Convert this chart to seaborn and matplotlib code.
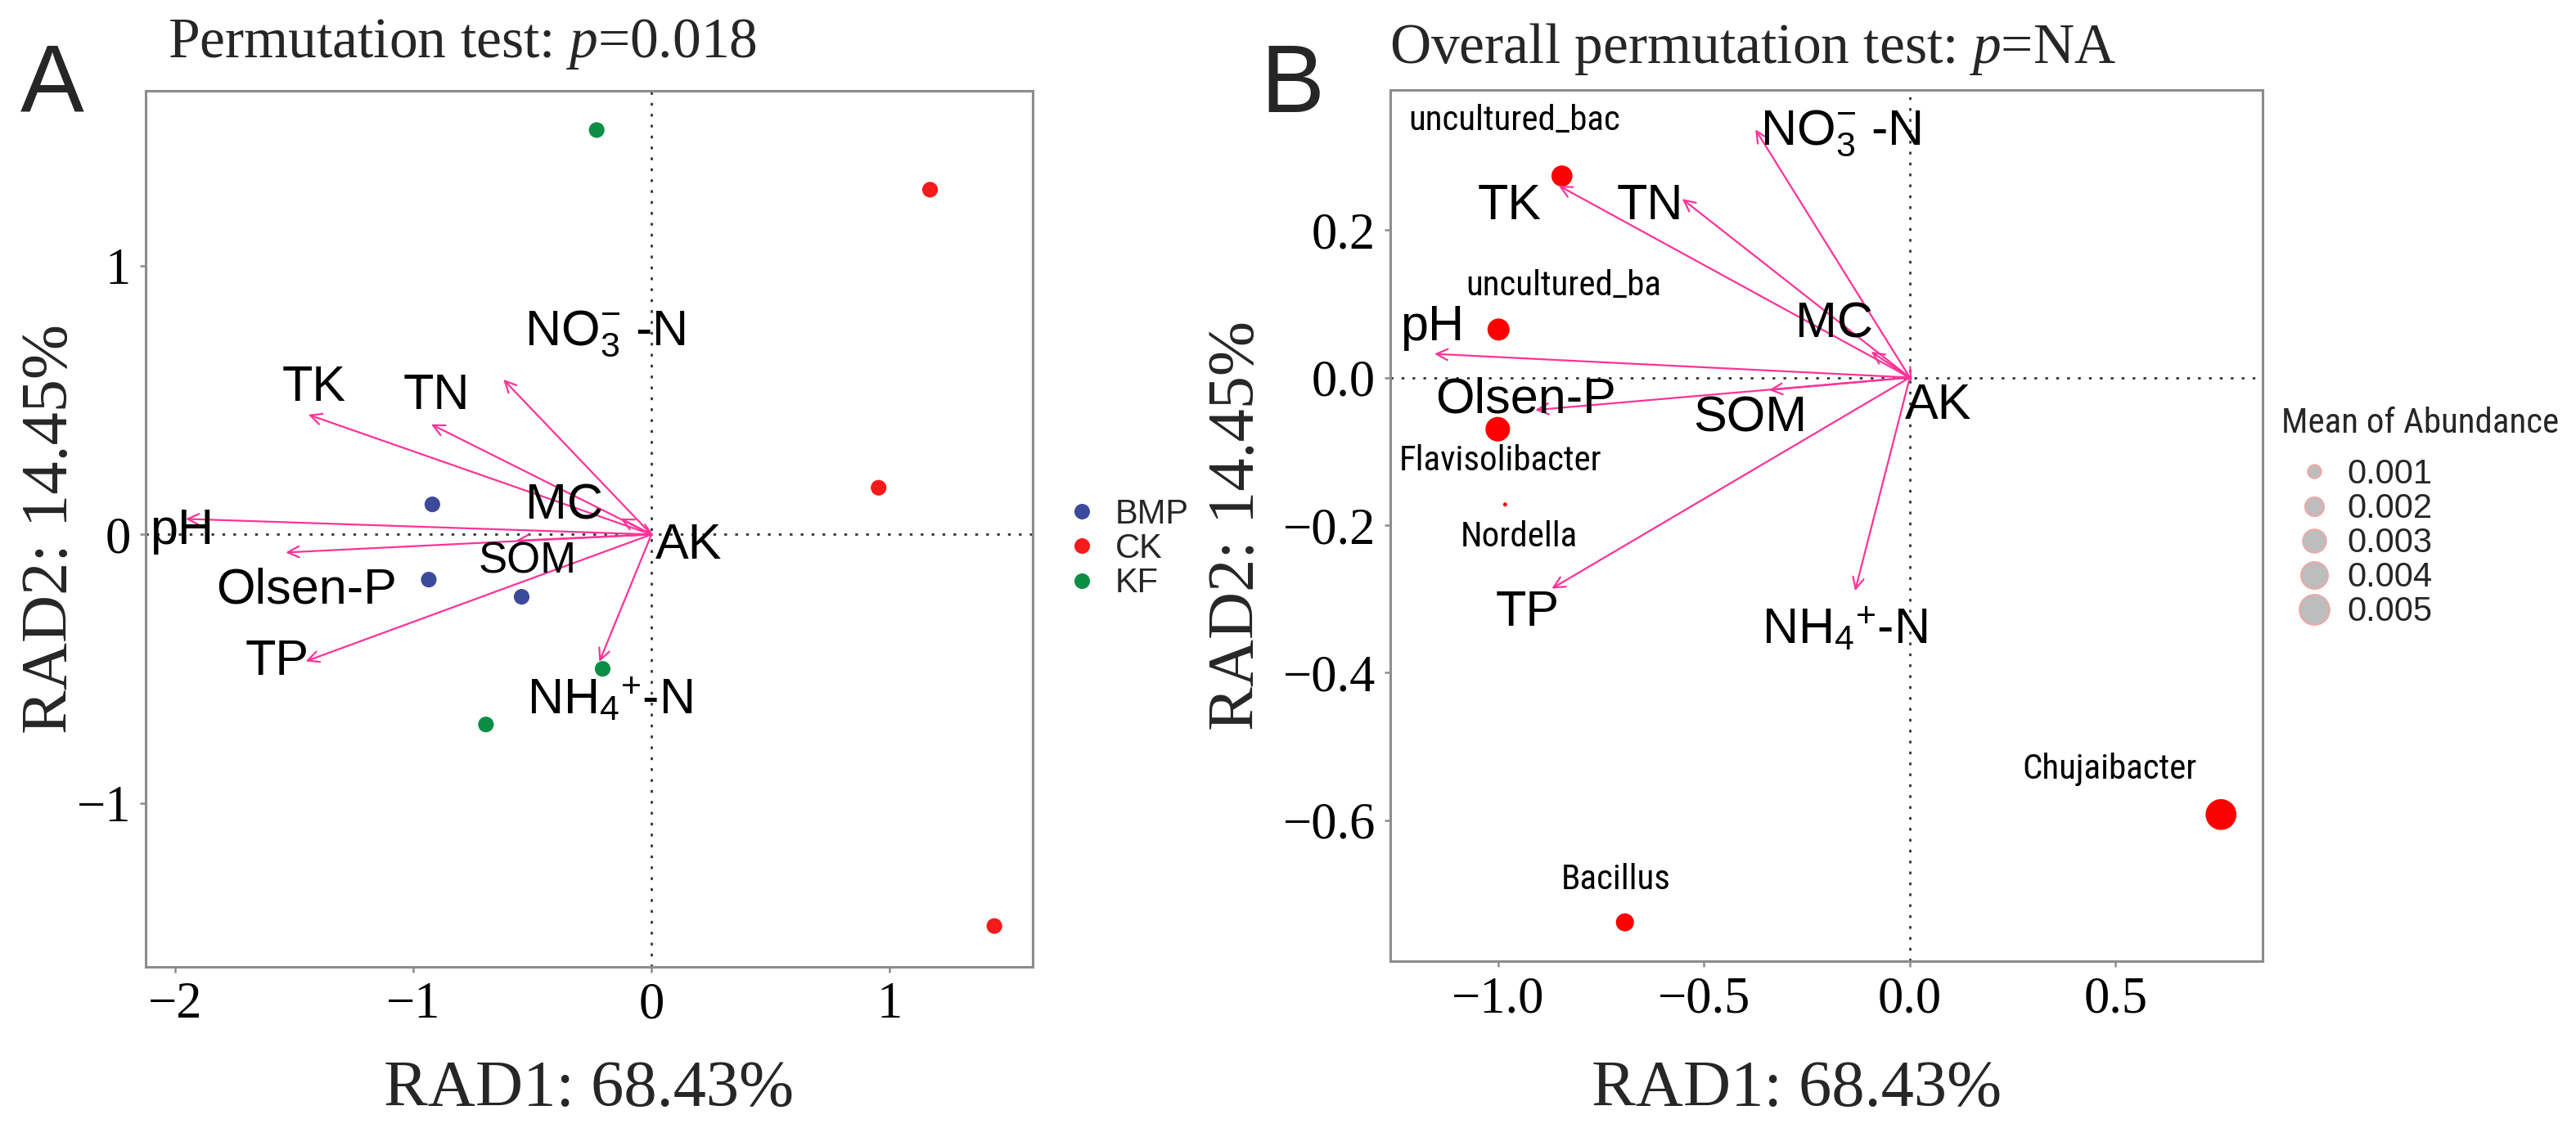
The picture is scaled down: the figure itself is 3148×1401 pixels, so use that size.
import numpy as np
import pandas as pd
import matplotlib
matplotlib.use("Agg")
import matplotlib.pyplot as plt
from matplotlib.lines import Line2D
from matplotlib import font_manager
from matplotlib.font_manager import FontProperties
import seaborn as sns

# ---------------- Panel A data (samples) ----------------
sample_group = ["BMP", "BMP", "BMP", "CK", "CK", "CK", "KF", "KF", "KF"]
sample_rad1 = [-0.920, -0.935, -0.545, 1.170, 0.954, 1.440, -0.230, -0.205, -0.695]
sample_rad2 = [0.112, -0.168, -0.232, 1.283, 0.174, -1.457, 1.505, -0.500, -0.707]
group_order = ["BMP", "CK", "KF"]
group_colors = {"BMP": "#3C4A9C", "CK": "#F51B1B", "KF": "#0A8D45"}

# environmental factors
env_labels = ["pH", "Olsen-P", "TK", "TN", r"NO$_3^{-}$ -N", "MC", "SOM", "TP",
              r"NH$_4$$^{+}$-N", "AK"]
env_a_rad1 = [-1.956, -1.536, -1.441, -0.925, -0.622, -0.130, -0.570, -1.452, -0.219, 0.010]
env_a_rad2 = [0.058, -0.067, 0.446, 0.410, 0.577, 0.060, -0.023, -0.472, -0.474, -0.005]
env_a_lab_x = [-1.973, -1.447, -1.418, -0.903, -0.193, -0.365, -0.522, -1.573, -0.175, 0.158]
env_a_lab_y = [0.012, -0.208, 0.544, 0.514, 0.746, 0.106, -0.102, -0.474, -0.621, -0.043]

# ---------------- Panel B data (genera) ----------------
genus_names = ["uncultured_bac", "uncultured_ba", "Flavisolibacter", "Nordella",
               "Bacillus", "Chujaibacter"]
genus_rad1 = [-0.845, -0.999, -1.001, -0.983, -0.692, 0.756]
genus_rad2 = [0.273, 0.065, -0.070, -0.172, -0.738, -0.592]
genus_abund = [0.00242, 0.00267, 0.00330, 0.0001, 0.00178, 0.0052]
genus_lab_x = [-0.960, -0.842, -0.994, -0.949, -0.713, 0.485]
genus_lab_y = [0.348, 0.124, -0.113, -0.216, -0.680, -0.531]

env_b_rad1 = [-1.155, -0.910, -0.853, -0.553, -0.375, -0.094, -0.342, -0.870, -0.133, 0.005]
env_b_rad2 = [0.032, -0.044, 0.260, 0.242, 0.336, 0.035, -0.017, -0.286, -0.289, -0.005]
env_b_lab_x = [-1.160, -0.933, -0.972, -0.632, -0.168, -0.183, -0.388, -0.929, -0.158, 0.069]
env_b_lab_y = [0.068, -0.030, 0.232, 0.232, 0.331, 0.072, -0.056, -0.319, -0.343, -0.039]

abund_breaks = [0.001, 0.002, 0.003, 0.004, 0.005]

a_xticks = [-2, -1, 0, 1]
a_yticks = [-1, 0, 1]
b_xticks = [-1.0, -0.5, 0.0, 0.5]
b_yticks = [-0.6, -0.4, -0.2, 0.0, 0.2]

# ---------------- style ----------------
sns.set_theme(style="white")
plt.rcParams["font.family"] = ["Liberation Serif", "DejaVu Serif"]
plt.rcParams["mathtext.fontset"] = "custom"
plt.rcParams["mathtext.rm"] = "Liberation Sans"
plt.rcParams["mathtext.it"] = "Liberation Serif:italic"
plt.rcParams["axes.unicode_minus"] = True

SANS = ["Liberation Sans", "DejaVu Sans"]


def find_condensed():
    prefs = ["Liberation Sans Narrow", "Arial Narrow", "Roboto Condensed",
             "Open Sans Condensed", "Noto Sans", "Open Sans", "Roboto", "DejaVu Sans"]
    cands = []
    for f in font_manager.fontManager.ttflist:
        narrow = ("Narrow" in f.name or "Condensed" in f.name or
                  f.stretch in ("condensed", "semi-condensed", "extra-condensed",
                                "ultra-condensed") or
                  (isinstance(f.stretch, (int, float)) and f.stretch < 500))
        if not narrow:
            continue
        if f.style != "normal":
            continue
        if f.weight not in (400, "normal", "regular", "book"):
            continue
        rank = len(prefs)
        for i, p in enumerate(prefs):
            if f.name.startswith(p):
                rank = i
                break
        cands.append((rank, f.fname))
    if not cands:
        return None
    cands.sort()
    return cands[0][1]


cond_path = find_condensed()
if cond_path:
    narrow_fp = FontProperties(fname=cond_path, size=31)
    narrow_title_fp = FontProperties(fname=cond_path, size=31)
else:
    narrow_fp = FontProperties(family=SANS, size=28)
    narrow_title_fp = FontProperties(family=SANS, size=26)

ARROW_COL = "#FF3399"
SPINE_COL = "#8C8C8C"

fig = plt.figure(figsize=(31.48, 14.01), dpi=100)
W, H = 3148.0, 1401.0
axA = fig.add_axes([178 / W, 1 - 1182 / H, 1084 / W, 1071 / H])
axB = fig.add_axes([1699 / W, 1 - 1175 / H, 1066 / W, 1065 / H])


def style_axes(ax):
    for sp in ax.spines.values():
        sp.set_color(SPINE_COL)
        sp.set_linewidth(2.2)
    ax.tick_params(axis="both", which="both", direction="out", length=5, width=1.8,
                   color=SPINE_COL, labelsize=45, pad=8, labelcolor="black",
                   bottom=True, left=True, top=False, right=False)
    ax.axhline(0, color="#333333", lw=2.0, ls=(0, (1.2, 3.6)), zorder=1)
    ax.axvline(0, color="#333333", lw=2.0, ls=(0, (1.2, 3.6)), zorder=1)
    ax.grid(False)


def draw_arrows(ax, xs, ys):
    for x, y in zip(xs, ys):
        ax.annotate("", xy=(x, y), xytext=(0, 0), xycoords="data", textcoords="data",
                    arrowprops=dict(arrowstyle="->,head_length=0.45,head_width=0.22",
                                    color=ARROW_COL, lw=1.6, shrinkA=0, shrinkB=0,
                                    mutation_scale=22),
                    zorder=4)


# ---------------- Panel A ----------------
dfA = pd.DataFrame({"RAD1": sample_rad1, "RAD2": sample_rad2, "Group": sample_group})
style_axes(axA)
sns.scatterplot(data=dfA, x="RAD1", y="RAD2", hue="Group", hue_order=group_order,
                palette=group_colors, s=190, linewidth=0, legend=False, ax=axA, zorder=3)
draw_arrows(axA, env_a_rad1, env_a_rad2)
for lab, x, y in zip(env_labels, env_a_lab_x, env_a_lab_y):
    fs = 38 if lab == "SOM" else 44
    axA.text(x, y, lab, ha="center", va="center", fontsize=fs, family=SANS,
             color="black", zorder=5)
axA.set_xlim(-2.124, 1.601)
axA.set_ylim(-1.609, 1.651)
axA.set_xticks(a_xticks)
axA.set_yticks(a_yticks)
axA.set_xticklabels([f"{v:d}".replace("-", "\u2212") for v in a_xticks])
axA.set_yticklabels([f"{v:d}".replace("-", "\u2212") for v in a_yticks])
axA.set_xlabel("RAD1: 68.43%", fontsize=58)
axA.xaxis.set_label_coords(0.5, -0.1587)
axA.xaxis.label.set_va("baseline")
axA.set_ylabel("RAD2: 14.45%", fontsize=58)
axA.yaxis.set_label_coords(-0.107, 0.5)
axA.yaxis.label.set_va("center")

handlesA = [Line2D([], [], marker="o", ls="", markersize=13.7, markeredgewidth=0,
                   color=group_colors[g]) for g in group_order]
legA = axA.legend(handlesA, group_order, loc="center left",
                  bbox_to_anchor=(1301 / W, 1 - 671 / H), bbox_transform=fig.transFigure,
                  frameon=False, handlelength=1.0, handletextpad=0.48, borderpad=0,
                  borderaxespad=0, labelspacing=0.05,
                  prop={"family": SANS, "size": 30})

# ---------------- Panel B ----------------
dfB = pd.DataFrame({"RAD1": genus_rad1, "RAD2": genus_rad2, "Abundance": genus_abund,
                    "Genus": genus_names})
style_axes(axB)
size_lo, size_hi = 0.0001, 0.0052
s_min, s_max = 13.0, 737.0
sns.scatterplot(data=dfB, x="RAD1", y="RAD2", size="Abundance", sizes=(s_min, s_max),
                size_norm=(size_lo, size_hi), color="#FF0000", linewidth=0,
                legend=False, ax=axB, zorder=3)
draw_arrows(axB, env_b_rad1, env_b_rad2)
for lab, x, y in zip(env_labels, env_b_lab_x, env_b_lab_y):
    axB.text(x, y, lab, ha="center", va="center", fontsize=44, family=SANS,
             color="black", zorder=5)
for lab, x, y in zip(genus_names, genus_lab_x, genus_lab_y):
    axB.text(x, y, lab, ha="center", va="center", fontproperties=narrow_fp,
             color="black", zorder=5)
axB.set_xlim(-1.262, 0.857)
axB.set_ylim(-0.7906, 0.3895)
axB.set_xticks(b_xticks)
axB.set_yticks(b_yticks)
axB.set_xticklabels([f"{v:.1f}".replace("-", "\u2212") for v in b_xticks])
axB.set_yticklabels([f"{v:.1f}".replace("-", "\u2212") for v in b_yticks])
axB.set_xlabel("RAD1: 68.43%", fontsize=58)
axB.xaxis.set_label_coords(0.466, -0.166)
axB.xaxis.label.set_va("baseline")
axB.set_ylabel("RAD2: 14.45%", fontsize=58)
axB.yaxis.set_label_coords(-0.1754, 0.5)
axB.yaxis.label.set_va("center")


def size_of(v):
    t = (v - size_lo) / (size_hi - size_lo)
    return s_min + t * (s_max - s_min)


handlesB = [Line2D([], [], marker="o", ls="", markersize=np.sqrt(size_of(v)),
                   markerfacecolor="#BDBDBD", markeredgecolor="#F2A5A5",
                   markeredgewidth=1.3) for v in abund_breaks]
legB = axB.legend(handlesB, [f"{v:.3f}" for v in abund_breaks], loc="upper left",
                  bbox_to_anchor=(2790 / W, 1 - 560 / H), bbox_transform=fig.transFigure,
                  frameon=False, handlelength=1.82, handletextpad=0.05, borderpad=0,
                  borderaxespad=0, labelspacing=0.05,
                  prop={"family": SANS, "size": 30})
fig.text(2788 / W, 1 - 517 / H, "Mean of Abundance", ha="left", va="center",
         fontproperties=narrow_title_fp)

# ---------------- titles and panel letters ----------------
fig.text(205 / W, 1 - 70 / H, r"Permutation test: $\mathit{p}$=0.018", ha="left",
         va="baseline", fontsize=50)
fig.text(1698 / W, 1 - 77 / H, r"Overall permutation test: $\mathit{p}$=NA", ha="left",
         va="baseline", fontsize=50)
fig.text(25 / W, 1 - 137 / H, "A", ha="left", va="baseline", fontsize=84, family=SANS)
fig.text(1540 / W, 1 - 137 / H, "B", ha="left", va="baseline", fontsize=84, family=SANS)

fig.savefig("out.png", dpi=100, facecolor="white")
